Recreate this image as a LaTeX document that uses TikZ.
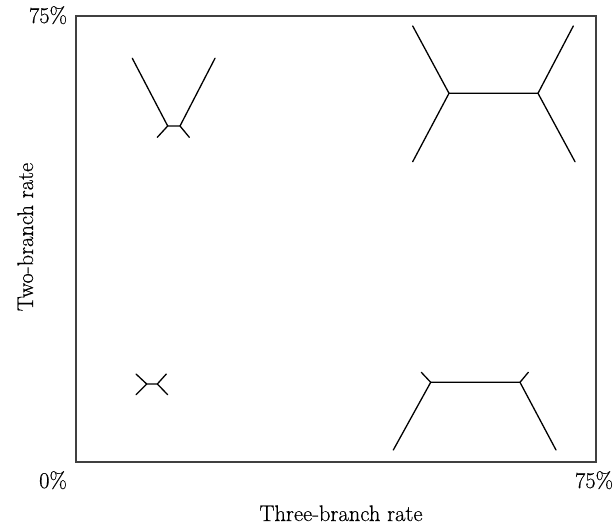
\documentclass[tikz,border=0pt]{standalone}
\usepackage{fontspec}
% slightly heavier serif for the axis labels
\newfontfamily\labfont{Latin Modern Roman}[FakeBold=0.5]
\begin{document}
\begin{tikzpicture}[x=1pt,y=-1pt,
  frame/.style={draw=black!75,line width=1.3pt},
  edge/.style={draw=black,line width=1.3pt,line cap=round},
  lab/.style={font=\labfont\fontsize{22.5}{26}\selectfont,inner sep=0pt,anchor=base}]
\useasboundingbox (0,0) rectangle (616,525);
% plot frame
\coordinate (ll) at (76,462);
\coordinate (ur) at (596,16);
\draw[frame] (ll) rectangle (ur);
% axis tick labels and titles
\node[lab] (ytop) at (48,23) {75\%};
\node[lab] (orig) at (53,488) {0\%};
\node[lab] (xtop) at (594,488) {75\%};
\node[lab] (xlab) at (341,521) {Three-branch rate};
\node[lab,rotate=90] (ylab) at (33,237) {Two-branch rate};
% tree A: long external branches on top, short on bottom
\coordinate (a1) at (167.7,126);
\coordinate (a2) at (180,126);
\coordinate (a1u) at (132.3,58.3);
\coordinate (a2u) at (215,58.3);
\coordinate (a1d) at (157.3,137.3);
\coordinate (a2d) at (189.3,137.3);
\draw[edge] (a1u) -- (a1) -- (a2) -- (a2u);
\draw[edge] (a1d) -- (a1);
\draw[edge] (a2d) -- (a2);
% tree B: all branches long
\coordinate (b1) at (449,93.3);
\coordinate (b2) at (538,93.3);
\coordinate (b1u) at (412.7,26);
\coordinate (b2u) at (573.3,26);
\coordinate (b1d) at (412.7,161.7);
\coordinate (b2d) at (575,161.7);
\draw[edge] (b1u) -- (b1) -- (b2) -- (b2u);
\draw[edge] (b1d) -- (b1);
\draw[edge] (b2d) -- (b2);
% tree C: all branches short
\coordinate (c1) at (146.7,384);
\coordinate (c2) at (157.3,384);
\coordinate (c1u) at (136,374);
\coordinate (c2u) at (166.3,374);
\coordinate (c1d) at (136,394.7);
\coordinate (c2d) at (167.7,394.7);
\draw[edge] (c1u) -- (c1) -- (c2) -- (c2u);
\draw[edge] (c1d) -- (c1);
\draw[edge] (c2d) -- (c2);
% tree D: long internal branch, long lower external branches
\coordinate (d1) at (430.7,382.3);
\coordinate (d2) at (520,382.3);
\coordinate (d1u) at (421.3,372.3);
\coordinate (d2u) at (528.3,372.3);
\coordinate (d1d) at (393.3,450);
\coordinate (d2d) at (556,450);
\draw[edge] (d1u) -- (d1) -- (d2) -- (d2u);
\draw[edge] (d1d) -- (d1);
\draw[edge] (d2d) -- (d2);
\end{tikzpicture}
\end{document}
